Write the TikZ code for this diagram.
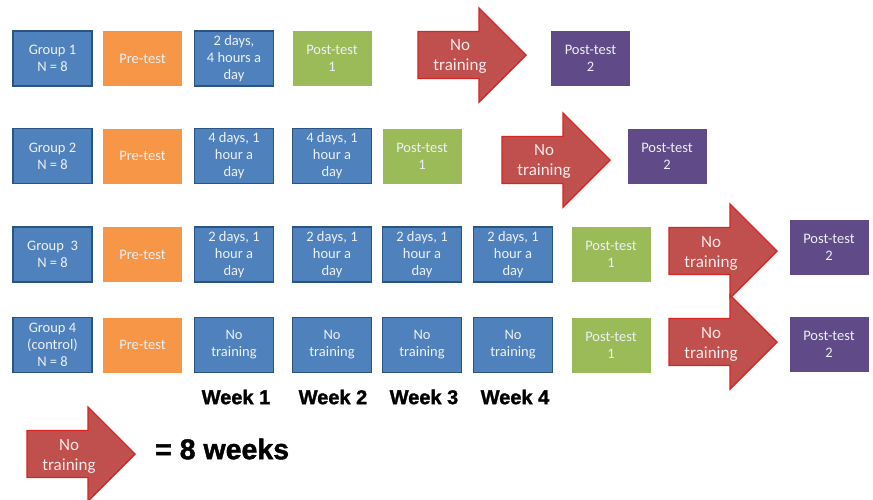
\documentclass[tikz,border=0pt]{standalone}
\usepackage{fontspec}
\setmainfont{Carlito}
\newfontfamily\weekfont[BoldFeatures={FakeBold=1.5}]{Liberation Sans}

\definecolor{boxblue}{RGB}{79,129,189}
\definecolor{edgeblue}{RGB}{44,84,130}
\definecolor{preorange}{RGB}{247,150,70}
\definecolor{postgreen}{RGB}{155,187,89}
\definecolor{postpurple}{RGB}{96,74,135}
\definecolor{arrowfill}{RGB}{192,80,77}
\definecolor{arrowedge}{RGB}{214,38,36}
\definecolor{lighttext}{RGB}{236,240,246}

% one "No training" arrow: name, left end of the shaft, middle height
\newcommand{\notrain}[3]{%
  \draw[trainarrow] (#2,{#3-23.5}) -- ({#2+61},{#3-23.5}) -- ({#2+61},{#3-47})
    -- ({#2+108},#3) -- ({#2+61},{#3+47}) -- ({#2+61},{#3+23.5})
    -- (#2,{#3+23.5}) -- cycle;
  \node[arrowtext] (#1) at ({#2+42},{#3+2}) {No\\training};
}

\begin{document}
\begin{tikzpicture}[x=1pt,y=-1pt,
    cell/.style={minimum width=79pt, minimum height=55pt, inner sep=0pt,
      align=center, text=lighttext, font=\fontsize{14.5}{17}\selectfont},
    bluebox/.style={cell, fill=boxblue, draw=edgeblue, line width=1.6pt},
    prebox/.style={cell, fill=preorange},
    postone/.style={cell, fill=postgreen},
    posttwo/.style={cell, fill=postpurple},
    trainarrow/.style={fill=arrowfill, draw=arrowedge, line width=1.4pt, line join=miter},
    arrowtext/.style={align=center, inner sep=0pt, text=white!92!red,
      font=\fontsize{17}{20}\selectfont},
    weeklabel/.style={inner sep=0pt, font=\weekfont\bfseries\fontsize{20}{23}\selectfont}]

   \useasboundingbox[fill=white] (0,0) rectangle (873,499);

   % group 1
   \node[bluebox] (g1) at (52.5,58.5) {Group 1\\N = 8};
   \node[prebox] (pre1) at (142.5,58.5) {Pre-test};
   \node[bluebox] (w1a) at (234,58.5) {2 days,\\4 hours a\\day};
   \node[postone] (pa1) at (332,58.5) {Post-test\\1};
   \notrain{nt1}{418}{55}
   \node[posttwo] (pb1) at (590.5,58) {Post-test\\2};

   % group 2
   \node[bluebox] (g2) at (52.5,156) {Group 2\\N = 8};
   \node[prebox] (pre2) at (142.5,156) {Pre-test};
   \node[bluebox] (w2a) at (234,156) {4 days, 1\\hour a\\day};
   \node[bluebox] (w2b) at (332,156) {4 days, 1\\hour a\\day};
   \node[postone] (pa2) at (422,156) {Post-test\\1};
   \notrain{nt2}{502}{160}
   \node[posttwo] (pb2) at (667,156) {Post-test\\2};

   % group 3
   \node[bluebox] (g3) at (52.5,254.5) {Group~ 3\\N = 8};
   \node[prebox] (pre3) at (142.5,254.5) {Pre-test};
   \node[bluebox] (w3a) at (234,254.5) {2 days, 1\\hour a\\day};
   \node[bluebox] (w3b) at (332,254.5) {2 days, 1\\hour a\\day};
   \node[bluebox] (w3c) at (422,254.5) {2 days, 1\\hour a\\day};
   \node[bluebox] (w3d) at (513,254.5) {2 days, 1\\hour a\\day};
   \node[postone] (pa3) at (611,254.5) {Post-test\\1};
   \notrain{nt3}{669}{251}
   \node[posttwo] (pb3) at (829,247) {Post-test\\2};

   % group 4
   \node[bluebox] (g4) at (52.5,345) {Group 4\\(control)\\N = 8};
   \node[prebox] (pre4) at (142.5,345) {Pre-test};
   \node[bluebox] (w4a) at (234,345) {No\\training};
   \node[bluebox] (w4b) at (332,345) {No\\training};
   \node[bluebox] (w4c) at (422,345) {No\\training};
   \node[bluebox] (w4d) at (513,345) {No\\training};
   \node[postone] (pa4) at (611,345) {Post-test\\1};
   \notrain{nt4}{669}{342}
   \node[posttwo] (pb4) at (829,344.5) {Post-test\\2};

   % weeks
   \node[weeklabel] (wk1) at (236,397) {Week 1};
   \node[weeklabel] (wk2) at (333,397) {Week 2};
   \node[weeklabel] (wk3) at (424,397) {Week 3};
   \node[weeklabel] (wk4) at (515,397) {Week 4};

   % legend
   \notrain{ntkey}{27}{454}
   \node[weeklabel, anchor=west, font=\weekfont\bfseries\fontsize{28.5}{32}\selectfont] (eight) at (155,449) {= 8 weeks};
\end{tikzpicture}
\end{document}
